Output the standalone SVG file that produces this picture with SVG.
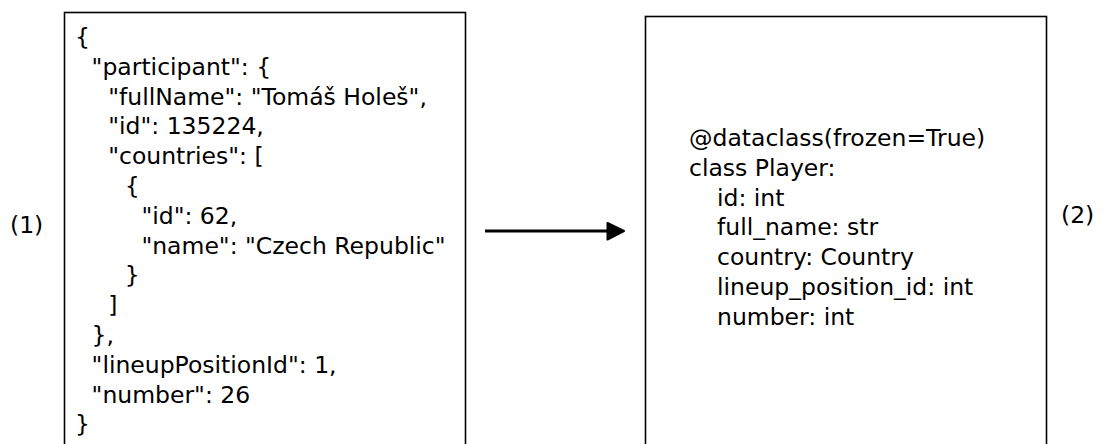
<svg xmlns="http://www.w3.org/2000/svg" width="1106" height="444" viewBox="0 0 1106 444">
  <defs>
    <style>
      .t { font-family: "DejaVu Sans", Verdana, sans-serif; font-size: 23.5px; fill: #000; }
      .box { fill: #fff; stroke: #000; stroke-width: 1.6; }
      .conn { stroke: #000; stroke-width: 3; fill: none; }
      .head { fill: #000; stroke: #000; stroke-width: 2; stroke-linejoin: round; }
    </style>
  </defs>
  <rect width="1106" height="444" fill="#fff"/>

  <g id="label1">
    <text class="t" x="10" y="233">(1)</text>
  </g>

  <g id="json-node">
    <rect class="box" x="64.5" y="12.5" width="401" height="460"/>
    <text class="t" x="75" y="45">{</text>
    <text class="t" x="91.6" y="74.8">"participant": {</text>
    <text class="t" x="108.2" y="104.6">"fullName": "Tomáš Holeš",</text>
    <text class="t" x="108.2" y="134.4">"id": 135224,</text>
    <text class="t" x="108.2" y="164.2">"countries": [</text>
    <text class="t" x="124.8" y="194">{</text>
    <text class="t" x="141.4" y="223.8">"id": 62,</text>
    <text class="t" x="141.4" y="253.6">"name": "Czech Republic"</text>
    <text class="t" x="124.8" y="283.4">}</text>
    <text class="t" x="108.2" y="313.2">]</text>
    <text class="t" x="91.6" y="343">},</text>
    <text class="t" x="91.6" y="372.8">"lineupPositionId": 1,</text>
    <text class="t" x="91.6" y="402.6">"number": 26</text>
    <text class="t" x="75" y="432.4">}</text>
  </g>

  <g id="connectors">
    <line class="conn" x1="485" y1="231" x2="610" y2="231"/>
    <polygon class="head" points="607.5,223 624,231 607.5,239.5"/>
  </g>

  <g id="class-node">
    <rect class="box" x="645.5" y="16.5" width="401" height="460"/>
    <text class="t" x="689" y="146">@dataclass(frozen=True)</text>
    <text class="t" x="689" y="175.8">class Player:</text>
    <text class="t" x="717" y="205.6">id: int</text>
    <text class="t" x="717" y="235.4">full_name: str</text>
    <text class="t" x="717" y="265.2">country: Country</text>
    <text class="t" x="717" y="295">lineup_position_id: int</text>
    <text class="t" x="717" y="324.8">number: int</text>
  </g>

  <g id="label2">
    <text class="t" x="1061" y="223">(2)</text>
  </g>
</svg>
